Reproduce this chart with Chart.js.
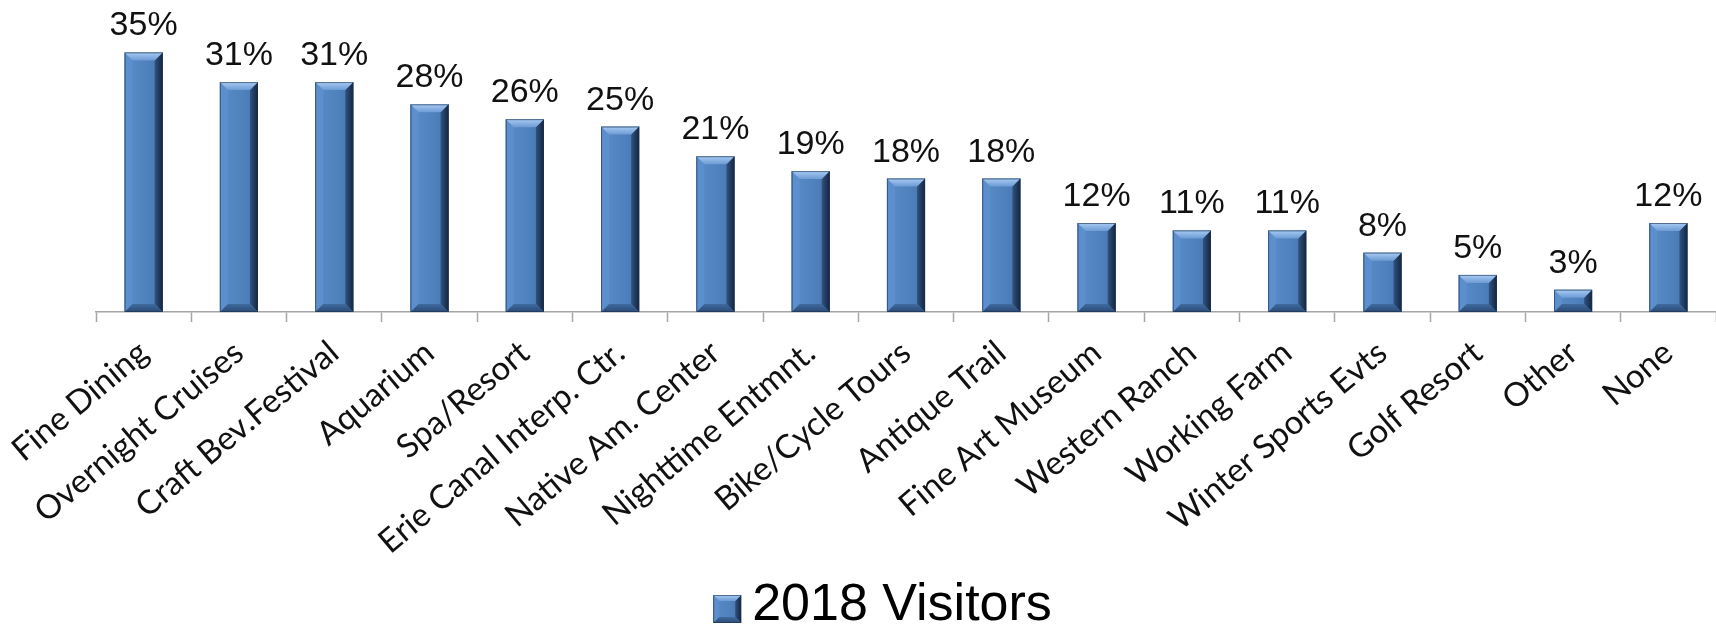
<!DOCTYPE html>
<html>
<head>
<meta charset="utf-8">
<title>2018 Visitors – Interest in Attractions</title>
<script src="https://cdn.jsdelivr.net/npm/chart.js@4.4.1/dist/chart.umd.min.js"></script>
<style>
  html, body { margin: 0; padding: 0; background: #ffffff; overflow: hidden; }
  #wrap { width: 1716px; height: 625px; position: relative; }
</style>
</head>
<body>
<div id="wrap"><canvas id="chart"></canvas></div>
<script>
// Attractions, in the order shown on the category axis
const categories = [
  'Fine Dining', 'Overnight Cruises', 'Craft Bev.Festival', 'Aquarium', 'Spa/Resort',
  'Erie Canal Interp. Ctr.', 'Native Am. Center', 'Nighttime Entmnt.', 'Bike/Cycle Tours',
  'Antique Trail', 'Fine Art Museum', 'Western Ranch', 'Working Farm', 'Winter Sports Evts',
  'Golf Resort', 'Other', 'None'
];

// Share of 2018 visitors (%)
const visitors2018 = [35, 31, 31, 28, 26, 25, 21, 19, 18, 18, 12, 11, 11, 8, 5, 3, 12];

const seriesName = '2018 Visitors';
const valueMax = 36;

const BAR_FACE = '#4F81BD';

// Paint a bevelled block (face, lit top/left edges, shaded right/bottom edges)
function drawBevelBlock(ctx, x0, y0, x1, y1, bevel) {
  const w = x1 - x0, h = y1 - y0;
  if (w <= 0 || h <= 0) return;
  const b = Math.min(bevel, h / 2, w / 2);
  const poly = (pts, fill) => {
    ctx.beginPath();
    ctx.moveTo(pts[0][0], pts[0][1]);
    for (let i = 1; i < pts.length; i++) ctx.lineTo(pts[i][0], pts[i][1]);
    ctx.closePath();
    ctx.fillStyle = fill;
    ctx.fill();
  };
  ctx.save();
  // face
  const face = ctx.createLinearGradient(x0, 0, x1, 0);
  face.addColorStop(0, '#5A8CC9');
  face.addColorStop(0.6, '#4F81BD');
  face.addColorStop(1, '#4675AE');
  ctx.fillStyle = face;
  ctx.fillRect(x0, y0, w, h);
  // left edge
  poly([[x0, y0], [x0 + b, y0 + b], [x0 + b, y1 - b], [x0, y1]], '#5C8FCD');
  // right edge
  const right = ctx.createLinearGradient(x1 - b, 0, x1, 0);
  right.addColorStop(0, '#2F5382');
  right.addColorStop(1, '#15253C');
  poly([[x1, y0], [x1, y1], [x1 - b, y1 - b], [x1 - b, y0 + b]], right);
  // top edge
  const top = ctx.createLinearGradient(0, y0, 0, y0 + b);
  top.addColorStop(0, '#A8CBF3');
  top.addColorStop(1, '#6D9BD4');
  poly([[x0, y0], [x1, y0], [x1 - b, y0 + b], [x0 + b, y0 + b]], top);
  // bottom edge
  const bot = ctx.createLinearGradient(0, y1 - b, 0, y1);
  bot.addColorStop(0, '#3F6A9F');
  bot.addColorStop(1, '#2B4B75');
  poly([[x0, y1], [x1, y1], [x1 - b, y1 - b], [x0 + b, y1 - b]], bot);
  // outline
  ctx.strokeStyle = 'rgba(28, 48, 78, 0.6)';
  ctx.lineWidth = 1;
  ctx.strokeRect(x0 + 0.5, y0 + 0.5, w - 1, h - 1);
  ctx.restore();
}

// Bevel each bar and write its value above it
const barDecor = {
  id: 'barDecor',
  afterDatasetsDraw(chart) {
    const ctx = chart.ctx;
    const meta = chart.getDatasetMeta(0);
    const data = chart.data.datasets[0].data;
    meta.data.forEach((el, i) => {
      const p = el.getProps(['x', 'y', 'base', 'width'], true);
      const x0 = p.x - p.width / 2, x1 = p.x + p.width / 2;
      drawBevelBlock(ctx, x0, Math.min(p.y, p.base), x1, Math.max(p.y, p.base), 8);
      ctx.save();
      ctx.font = '34px "Liberation Sans", Arial, sans-serif';
      ctx.fillStyle = '#111111';
      ctx.textAlign = 'center';
      ctx.textBaseline = 'alphabetic';
      ctx.fillText(data[i] + '%', p.x, p.y - 17);
      ctx.restore();
    });
  }
};

const LEGEND_FONT = 52;
const LEGEND_BOX = 28;
const LEGEND_GAP = 11;

// Legend placement and its bevelled swatch
const legendDecor = {
  id: 'legendDecor',
  afterLayout(chart) {
    const lg = chart.legend;
    if (!lg) return;
    lg.left -= 35;
    lg.right -= 35;
  },
  afterDraw(chart) {
    const lg = chart.legend;
    if (!lg) return;
    const ctx = chart.ctx;
    ctx.save();
    ctx.font = LEGEND_FONT + 'px "Liberation Sans", Arial, sans-serif';
    const textW = ctx.measureText(seriesName).width;
    ctx.restore();
    const totalW = LEGEND_BOX + LEGEND_FONT / 2 + textW;
    const startX = (lg.left + lg.right) / 2 - totalW / 2;
    const textX = startX + LEGEND_BOX + LEGEND_FONT / 2;
    const midY = lg.top + LEGEND_FONT / 2;
    const bx = textX - LEGEND_GAP - LEGEND_BOX;
    const by = midY - LEGEND_BOX / 2 + 3;
    drawBevelBlock(ctx, bx, by, bx + LEGEND_BOX, by + LEGEND_BOX, 6);
  }
};

function build() {
  new Chart(document.getElementById('chart'), {
    type: 'bar',
    data: {
      labels: categories,
      datasets: [{
        label: seriesName,
        data: visitors2018,
        backgroundColor: BAR_FACE,
        borderWidth: 0,
        barPercentage: 0.4,
        categoryPercentage: 1.0
      }]
    },
    options: {
      responsive: true,
      maintainAspectRatio: false,
      animation: false,
      layout: { padding: { left: 96, right: -8, top: 45, bottom: -17 } },
      scales: {
        x: {
          grid: {
            display: true,
            drawOnChartArea: false,
            drawTicks: true,
            tickLength: 10,
            tickColor: '#A6A6A6',
            tickWidth: 1.5,
            offset: true
          },
          border: { display: true, color: '#A6A6A6', width: 1.5 },
          ticks: {
            autoSkip: false,
            minRotation: 40,
            maxRotation: 40,
            padding: 11,
            color: '#111111',
            font: { family: 'Lato', size: 33 }
          },
          afterFit(scale) { scale.height = 268; }
        },
        y: {
          display: false,
          min: 0,
          max: valueMax
        }
      },
      plugins: {
        legend: {
          display: true,
          position: 'bottom',
          labels: {
            padding: 0,
            boxWidth: LEGEND_BOX,
            boxHeight: LEGEND_BOX,
            color: '#111111',
            font: { family: 'Liberation Sans', size: LEGEND_FONT },
            generateLabels() {
              return [{
                text: seriesName,
                fillStyle: 'rgba(0,0,0,0)',
                strokeStyle: 'rgba(0,0,0,0)',
                lineWidth: 0,
                hidden: false,
                datasetIndex: 0
              }];
            }
          }
        },
        tooltip: { enabled: false }
      }
    },
    plugins: [barDecor, legendDecor]
  });
}

Promise.all([
  document.fonts.load('33px Lato'),
  document.fonts.load('34px "Liberation Sans"')
]).then(build, build);
</script>
</body>
</html>
